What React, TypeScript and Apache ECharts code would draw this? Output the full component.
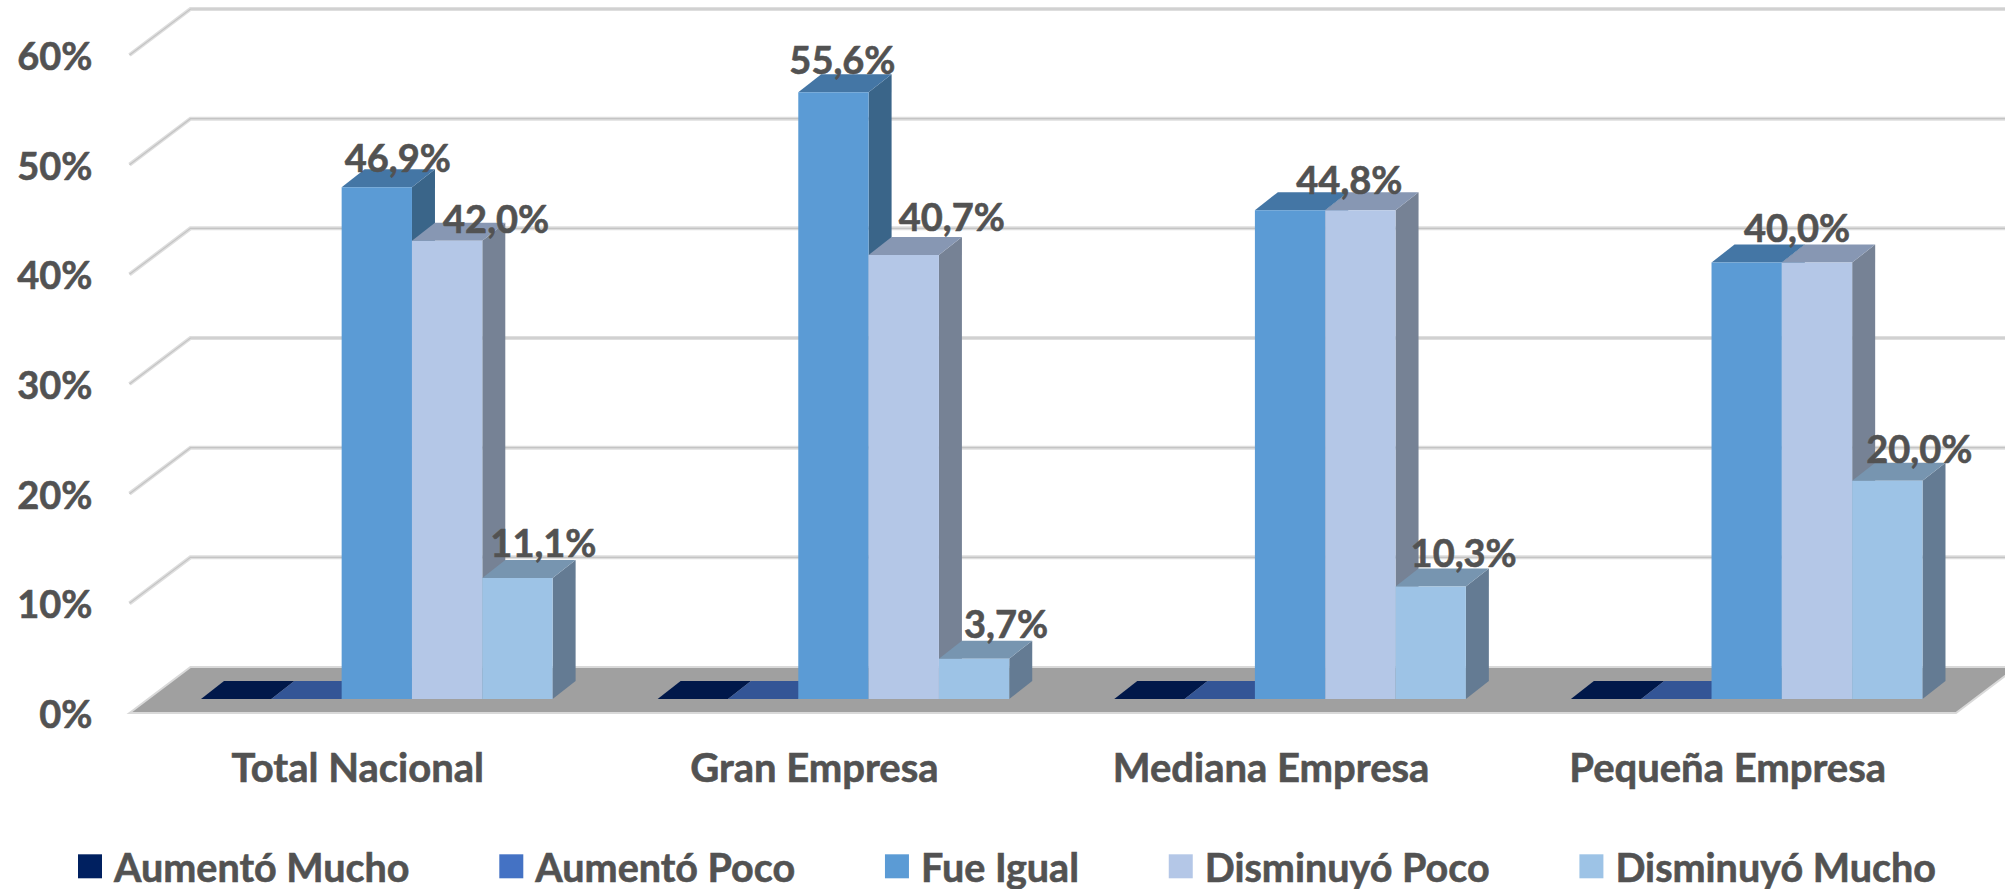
import React, { useEffect, useRef } from "react";
import * as echarts from "echarts";

const categories = ["Total Nacional", "Gran Empresa", "Mediana Empresa", "Pequeña Empresa"];
const seriesNames = ["Aumentó Mucho", "Aumentó Poco", "Fue Igual", "Disminuyó Poco", "Disminuyó Mucho"];
const aumentoMucho = [0, 0, 0, 0];
const aumentoPoco = [0, 0, 0, 0];
const fueIgual = [46.9, 55.6, 44.8, 40.0];
const disminuyoPoco = [42.0, 40.7, 44.8, 40.0];
const disminuyoMucho = [11.1, 3.7, 10.3, 20.0];
const seriesValues = [aumentoMucho, aumentoPoco, fueIgual, disminuyoPoco, disminuyoMucho];
const yTicks = [0, 10, 20, 30, 40, 50, 60];

const frontColors = ["#002060", "#4472C4", "#5B9BD5", "#B4C7E7", "#9DC3E6"];
const topColors = ["#00184A", "#335596", "#4476A5", "#8797B3", "#7795B0"];
const sideColors = ["#001238", "#2A4678", "#3A6589", "#768295", "#647B93"];

// label nudges relative to a bar's front top centre: [dx, dy]; null = no label drawn
const labelNudges: ([number, number] | null)[][] = [
  [null, null, null, null],
  [null, null, null, null],
  [[21, -30], [9, -33], null, null],
  [[49, -23], [48, -39], [-11, -31], [-20, -36]],
  [[26, -36], [32, -36], [33, -35], [32, -33]],
];

const FONT = "Lato";
const TEXT = "#525252";
const LABEL_SIZE = 38;
const CAT_SIZE = 40;
const LEGEND_SIZE = 39.5;
const THICK = { textBorderColor: TEXT, textBorderWidth: 0.6 };
const BAR_PLANE = { dx: 19, dy: -14 };
const BAR_DEPTH = { dx: 23, dy: -18 };
const WALL = { dx: 61, dy: -46 };
const BAR_FILL = 0.77;
const BAR_HEIGHT_SCALE = 0.995;

function renderWalls(params: any, api: any) {
  const cs = params.coordSys;
  const v = api.value(1);
  const y = api.coord([0, v])[1];
  const x0 = cs.x;
  const x1 = cs.x + cs.width;
  const pts = [
    [x0, y],
    [x0 + WALL.dx, y + WALL.dy],
    [x1 + WALL.dx, y + WALL.dy],
  ];
  const children: any[] = [];
  if (v === 0) {
    children.push({
      type: "polygon",
      shape: { points: [[x0, y], [x0 + WALL.dx, y + WALL.dy], [x1 + WALL.dx, y + WALL.dy], [x1, y]] },
      style: { fill: "#A0A0A0", stroke: "#D9D9D9", lineWidth: 2 },
    });
  } else {
    children.push({
      type: "polyline",
      shape: { points: pts },
      style: { fill: "none", stroke: "#DEDEDE", lineWidth: 4 },
    });
    children.push({
      type: "polyline",
      shape: { points: pts },
      style: { fill: "none", stroke: "#C4C4C4", lineWidth: 1.2 },
    });
  }
  return { type: "group", children };
}

function makeBarRenderer(idx: number) {
  return (params: any, api: any) => {
    const cat = api.value(0);
    const val = api.value(1);
    const band = api.size([1, 0])[0];
    const barW = (band * BAR_FILL) / seriesNames.length;
    const base = api.coord([cat, 0]);
    const top = api.coord([cat, val]);
    const xL = base[0] + BAR_PLANE.dx + (idx - seriesNames.length / 2) * barW;
    const xR = xL + barW;
    const yB = base[1] + BAR_PLANE.dy;
    const yT = yB - (base[1] - top[1]) * BAR_HEIGHT_SCALE;
    const d = BAR_DEPTH;
    const children: any[] = [];
    children.push({
      type: "polygon",
      shape: { points: [[xR, yB], [xR + d.dx, yB + d.dy], [xR + d.dx, yT + d.dy], [xR, yT]] },
      style: { fill: sideColors[idx] },
    });
    children.push({
      type: "polygon",
      shape: { points: [[xL, yT], [xL + d.dx, yT + d.dy], [xR + d.dx, yT + d.dy], [xR, yT]] },
      style: { fill: topColors[idx] },
    });
    if (val > 0) {
      children.push({
        type: "rect",
        shape: { x: xL, y: yT, width: barW, height: yB - yT },
        style: { fill: frontColors[idx] },
      });
    }
    const nudge = labelNudges[idx][cat];
    if (nudge) {
      children.push({
        type: "text",
        z2: 100,
        style: {
          text: val.toFixed(1).replace(".", ",") + "%",
          x: (xL + xR) / 2 + nudge[0],
          y: yT + nudge[1],
          align: "center",
          verticalAlign: "middle",
          font: `bold ${LABEL_SIZE}px ${FONT}`,
          fill: TEXT,
          stroke: TEXT,
          lineWidth: 0.6,
        },
      });
    }
    return { type: "group", children };
  };
}

export default function App() {
  const ref = useRef<HTMLDivElement>(null);
  useEffect(() => {
    document.body.style.margin = "0";
    const chart = echarts.init(ref.current!, null, { renderer: "svg" });
    chart.setOption({
      animation: false,
      backgroundColor: "#FFFFFF",
      grid: { left: 129.5, top: 55, width: 1826.5, height: 658, containLabel: false },
      xAxis: {
        type: "category",
        data: categories,
        axisLine: { show: false },
        axisTick: { show: false },
        splitLine: { show: false },
        axisLabel: { fontFamily: FONT, fontWeight: "bold", fontSize: CAT_SIZE, color: TEXT, margin: 34, ...THICK },
      },
      yAxis: {
        type: "value",
        min: 0,
        max: 60,
        interval: 10,
        axisLine: { show: false },
        axisTick: { show: false },
        splitLine: { show: false },
        axisLabel: {
          fontFamily: FONT,
          fontWeight: "bold",
          fontSize: LABEL_SIZE,
          color: TEXT,
          margin: 37,
          formatter: (v: number) => v + "%",
          ...THICK,
        },
      },
      legend: {
        left: 78,
        top: 846,
        padding: 0,
        itemWidth: 24,
        itemHeight: 24,
        itemGap: 89.5,
        icon: "rect",
        data: seriesNames,
        selectedMode: false,
        textStyle: {
          fontFamily: FONT,
          fontWeight: "bold",
          fontSize: LEGEND_SIZE,
          color: TEXT,
          padding: [0, 0, 0, 7],
          ...THICK,
        },
      },
      series: [
        {
          type: "custom",
          name: "walls",
          renderItem: renderWalls,
          data: yTicks.map((t) => [0, t]),
          encode: { x: 0, y: 1 },
          silent: true,
          z: 1,
        },
        ...seriesNames.map((name, i) => ({
          type: "custom",
          name,
          renderItem: makeBarRenderer(i),
          data: seriesValues[i].map((v, c) => [c, v]),
          encode: { x: 0, y: 1 },
          itemStyle: { color: frontColors[i] },
          z: 2,
        })),
      ],
    });
    return () => chart.dispose();
  }, []);
  return <div ref={ref} style={{ width: 2005, height: 889, overflow: "hidden" }} />;
}
